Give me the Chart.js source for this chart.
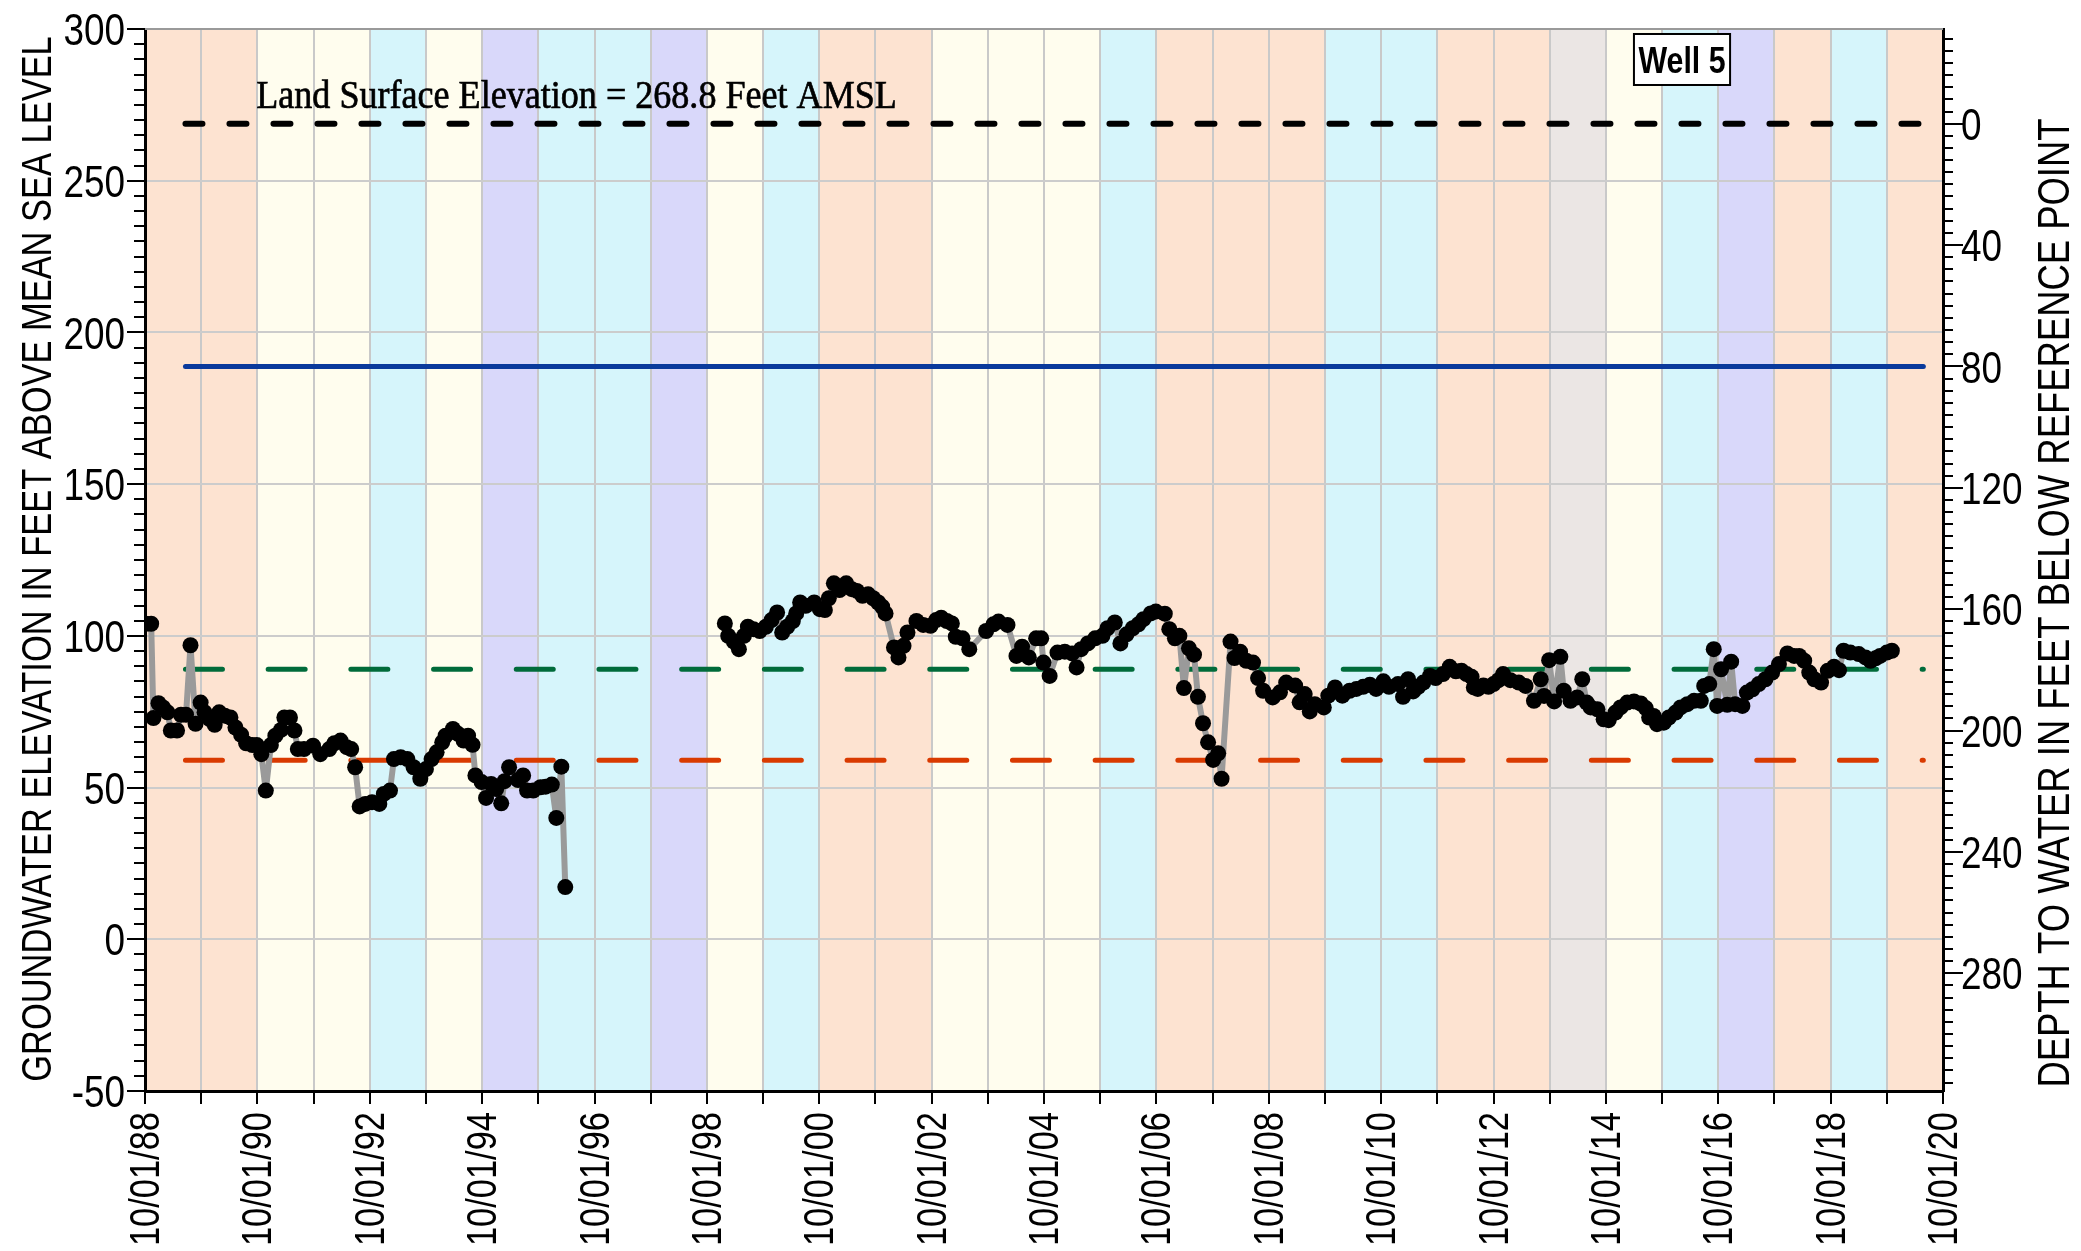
<!DOCTYPE html>
<html>
<head>
<meta charset="utf-8">
<script src="https://cdn.jsdelivr.net/npm/chart.js@4.4.1/dist/chart.umd.min.js"></script>
<style>
html,body{margin:0;padding:0;background:#fff;}
#wrap{width:2081px;height:1251px;position:relative;}
</style>
</head>
<body>
<div id="wrap"><canvas id="c" width="2081" height="1251"></canvas></div>
<script>
// ---------------- DATA ----------------
const wellName = 'Well 5';
const landSurfaceElevation = 268.8;
const landSurfaceLabel = 'Land Surface Elevation = 268.8 Feet AMSL';
const leftAxisTitle = 'GROUNDWATER ELEVATION IN FEET ABOVE MEAN SEA LEVEL';
const rightAxisTitle = 'DEPTH TO WATER IN FEET BELOW REFERENCE POINT';

// water years (start = Oct 1, decimal year) and their classification colour keys
const waterYearStarts = [1988.75,1989.75,1990.75,1991.75,1992.75,1993.75,1994.75,1995.75,1996.75,1997.75,
  1998.75,1999.75,2000.75,2001.75,2002.75,2003.75,2004.75,2005.75,2006.75,2007.75,
  2008.75,2009.75,2010.75,2011.75,2012.75,2013.75,2014.75,2015.75,2016.75,2017.75,2018.75,2019.75];
const waterYearTypes = ['orange','orange','yellow','yellow','blue','yellow','purple','blue','blue','purple',
  'yellow','blue','orange','orange','yellow','yellow','yellow','blue','orange','orange',
  'orange','blue','blue','orange','orange','gray','yellow','blue','purple','orange','blue','orange'];

// x tick labels (every second water year start)
const xTickLabels = ['10/01/88','10/01/90','10/01/92','10/01/94','10/01/96','10/01/98','10/01/00','10/01/02',
  '10/01/04','10/01/06','10/01/08','10/01/10','10/01/12','10/01/14','10/01/16','10/01/18','10/01/20'];

// reference lines
const refLineStart = 1989.47;
const refLineEnd = 2020.40;
const blueLineElev = 188.8;
const greenLineElev = 89;
const redLineElev = 59;

// observed groundwater elevations (decimal year, feet AMSL); null = data gap
const obsYear = [
 1988.77,1988.86,1988.90,1988.99,1989.07,1989.15,1989.21,1989.32,1989.39,1989.48,1989.56,1989.65,1989.74,1989.81,1989.90,1989.99,
 1990.07,1990.17,1990.27,1990.36,1990.46,1990.55,1990.66,1990.74,1990.82,1990.90,1990.99,1991.07,1991.17,1991.23,1991.33,1991.41,
 1991.47,1991.58,1991.74,1991.87,1992.03,1992.12,1992.23,1992.34,1992.42,1992.49,1992.57,1992.67,1992.79,1992.92,1993.00,1993.11,
 1993.18,1993.30,1993.42,1993.53,1993.65,1993.75,1993.85,1993.94,1994.04,1994.10,1994.23,1994.32,1994.42,1994.50,1994.58,1994.63,
 1994.74,1994.82,1994.91,1995.00,1995.09,1995.15,1995.23,1995.39,1995.48,1995.55,1995.66,1995.79,1995.88,1995.99,1996.07,1996.16,1996.23,
 1997.60,
 1999.07,1999.13,1999.23,1999.32,1999.41,1999.48,1999.58,1999.69,1999.80,1999.90,2000.00,2000.09,2000.18,2000.28,2000.34,2000.41,
 2000.51,2000.66,2000.76,2000.85,2000.92,2001.01,2001.11,2001.23,2001.33,2001.42,2001.52,2001.62,2001.71,2001.80,2001.87,2001.93,
 2002.08,2002.16,2002.25,2002.32,2002.48,2002.60,2002.73,2002.83,2002.92,2003.02,2003.11,2003.18,2003.30,2003.42,2003.72,2003.85,
 2003.94,2004.10,2004.26,2004.36,2004.48,2004.61,2004.70,2004.74,2004.85,2004.99,2005.12,2005.25,2005.33,2005.41,2005.53,2005.66,
 2005.79,2005.88,2006.01,2006.11,2006.22,2006.33,2006.43,2006.52,2006.65,2006.74,2006.90,2006.98,2007.08,2007.16,2007.24,2007.33,
 2007.42,2007.49,2007.58,2007.67,2007.76,2007.85,2007.91,2008.07,2008.14,2008.24,2008.35,2008.47,2008.56,2008.65,2008.82,2008.95,
 2009.06,2009.22,2009.30,2009.39,2009.48,2009.57,2009.73,2009.81,2009.93,2010.06,2010.19,2010.31,2010.43,2010.55,2010.66,2010.79,
 2010.89,2011.05,2011.14,2011.23,2011.32,2011.41,2011.50,2011.62,2011.72,2011.85,2011.97,2012.08,2012.18,2012.27,2012.36,2012.40,
 2012.47,2012.57,2012.66,2012.75,2012.84,2012.92,2013.05,2013.20,2013.32,2013.47,2013.59,2013.65,2013.74,2013.83,2013.94,2014.00,
 2014.12,2014.24,2014.33,2014.41,2014.48,2014.60,2014.71,2014.80,2014.92,2015.01,2015.13,2015.25,2015.37,2015.46,2015.52,2015.60,
 2015.66,2015.78,2015.87,2015.99,2016.08,2016.20,2016.32,2016.44,2016.50,2016.59,2016.67,2016.73,2016.80,2016.91,2016.98,2017.05,
 2017.18,2017.26,2017.36,2017.47,2017.59,2017.71,2017.83,2017.98,2018.10,2018.19,2018.28,2018.37,2018.46,2018.58,2018.70,2018.81,
 2018.90,2018.98,2019.10,2019.25,2019.37,2019.46,2019.55,2019.63,2019.75,2019.84
];
const obsElev = [
 104,104,72.9,77.8,76.4,74.8,68.8,68.8,74,74,96.9,71,78,74.8,72.6,70.7,
 74.8,73.7,73.1,69.8,67.4,64.6,64,64,61,49,64,67.1,69,73.1,73.1,68.8,
 62.7,62.7,63.8,61,62.7,64.6,65.5,63.3,62.7,56.7,43.8,44.6,45.2,44.6,47.9,49,
 59.4,60,59.4,56.7,52.9,56.1,59.4,61.6,64.9,67.1,69.3,67.7,65.5,67.1,64.1,54,
 51.8,46.6,51.2,49.5,44.8,52.1,56.7,52.5,54,49,49,50.1,50.3,51,40,56.9,17.2,
 null,
 104.1,100,98.1,95.6,100,103,102.2,101.6,103,105.2,107.7,101.1,103,104.9,107.4,111,
 109.9,111,108.8,108.5,112.4,117.3,115.1,117.3,115.4,114.8,113.2,113.7,112.4,111,109.6,107.4,
 96.2,92.9,96.7,101.1,104.9,103.6,103.3,105.2,106,104.9,104.1,99.7,99.2,95.6,101.6,103.8,
 104.7,103.6,93.4,96.4,92.9,99.2,99.2,91.2,86.8,94.5,94.8,94.2,89.6,95.6,97.5,99.2,
 100,102.5,104.4,97.5,100.5,102.5,103.8,105.5,107.4,108,107.3,102.2,99.2,100,82.8,95.9,
 93.8,79.9,71.2,64.9,59.1,61.3,52.9,98.1,92.7,94.8,91.8,91.2,86.1,81.9,79.7,81.4,
 84.6,83.6,78.1,80.8,75.1,77.5,76.4,80.3,83,80.3,81.9,82.5,83.2,83.9,82.5,85,
 83.2,84.1,79.9,85.7,81.7,83.2,84.6,86.8,86.1,87.4,89.8,88.3,88.5,87.4,86.5,83,
 82.5,83.6,83.2,84.1,85.4,87.4,85.4,84.6,83.5,78.6,85.7,80.2,92,78.4,93.1,81.9,
 78.6,79.7,85.7,78,76.4,75.8,72.5,72.2,74.7,76.4,78,78.4,77.7,76.2,73.1,73.6,
 70.9,71.4,73.1,74.7,76.4,77.5,78.6,78.6,83.5,84.1,95.6,76.9,89,77.3,91.5,77.5,
 76.9,81.3,82.4,84.1,85.7,87.9,90.7,94.2,93.4,93.4,91.8,87.9,85.7,84.6,88.5,89.8,
 88.7,95.1,94.5,94,92.9,91.8,92.6,93.4,94.5,95.1
];

// ---------------- STYLE ----------------
const SANS = "'Liberation Sans', Arial, sans-serif";
const NARROW_X = 0.82;   // horizontal condensing to mimic Arial Narrow
const bandColors = {orange:'#fde3d1', yellow:'#fffdee', blue:'#d6f5fb', purple:'#d9d8fa', gray:'#ebe6e4'};

function drawText(ctx, str, x, y, o) {
  ctx.save();
  ctx.translate(x, y);
  if (o.rot) ctx.rotate(o.rot);
  ctx.scale(o.sx || 1, 1);
  ctx.font = (o.weight || 'normal') + ' ' + o.size + 'px ' + (o.family || SANS);
  ctx.textAlign = o.align || 'left';
  ctx.textBaseline = o.baseline || 'alphabetic';
  ctx.fillStyle = o.color || '#000';
  ctx.fillText(str, 0, 0);
  if (o.stroke) { ctx.strokeStyle = o.color || '#000'; ctx.lineWidth = o.stroke; ctx.strokeText(str, 0, 0); }
  ctx.restore();
}

const bandsPlugin = {
  id: 'bands',
  beforeDraw(chart) {
    const {ctx, chartArea:a, scales:{x}} = chart;
    ctx.save();
    waterYearStarts.forEach((s, i) => {
      const x0 = x.getPixelForValue(s), x1 = x.getPixelForValue(s + 1);
      ctx.fillStyle = bandColors[waterYearTypes[i]];
      ctx.fillRect(x0, a.top, x1 - x0, a.bottom - a.top);
    });
    ctx.restore();
  }
};

const decorPlugin = {
  id: 'decor',
  afterDraw(chart) {
    const {ctx, chartArea:a, scales:{x, y, y2}} = chart;
    ctx.save();
    // top border
    ctx.strokeStyle = '#9a9a9a'; ctx.lineWidth = 2;
    ctx.beginPath(); ctx.moveTo(a.left, a.top); ctx.lineTo(a.right, a.top); ctx.stroke();
    // tick marks
    ctx.strokeStyle = '#000'; ctx.lineWidth = 2;
    ctx.beginPath();
    x.ticks.forEach(t => { const p = Math.round(x.getPixelForValue(t.value)); ctx.moveTo(p, a.bottom); ctx.lineTo(p, a.bottom + 13); });
    y.ticks.forEach(t => { const p = Math.round(y.getPixelForValue(t.value)); const l = (t.value % 50 === 0) ? 18 : 11; ctx.moveTo(a.left - l, p); ctx.lineTo(a.left, p); });
    y2.ticks.forEach(t => { const p = Math.round(y2.getPixelForValue(t.value)); const l = (t.value % 40 === 0) ? 20 : 10; ctx.moveTo(a.right, p); ctx.lineTo(a.right + l, p); });
    ctx.stroke();
    ctx.restore();

    // tick labels
    y.ticks.forEach(t => {
      if (t.value % 50 !== 0) return;
      drawText(ctx, String(t.value), a.left - 20, y.getPixelForValue(t.value) + 0.358 * 45, {size: 45, sx: NARROW_X, align: 'right'});
    });
    y2.ticks.forEach(t => {
      if (t.value % 40 !== 0 || t.value < 0 || t.value > 280) return;
      drawText(ctx, String(t.value), a.right + 18, y2.getPixelForValue(t.value) + 0.358 * 45, {size: 45, sx: NARROW_X, align: 'left'});
    });
    x.ticks.forEach((t, i) => {
      if (i % 2 !== 0) return;
      drawText(ctx, xTickLabels[i / 2], x.getPixelForValue(t.value) + 0.358 * 42 - 1, a.bottom + 21, {size: 42, sx: NARROW_X, align: 'right', rot: -Math.PI / 2});
    });

    // axis titles
    drawText(ctx, leftAxisTitle, 36 + 0.358 * 42, 559, {size: 42, sx: NARROW_X, align: 'center', rot: -Math.PI / 2});
    drawText(ctx, rightAxisTitle, 2053 + 0.358 * 44, 603, {size: 44, sx: NARROW_X * 1.01, align: 'center', rot: -Math.PI / 2});

    // land surface label
    drawText(ctx, landSurfaceLabel, x.getPixelForValue(1990.73), y.getPixelForValue(274),
      {size: 41, sx: 0.88, family: "'Liberation Serif', serif", stroke: 0.7});

    // well box
    ctx.save();
    ctx.font = 'bold 37px ' + SANS;
    const w = ctx.measureText(wellName).width * NARROW_X;
    const cx = x.getPixelForValue(2016.105), cy = y.getPixelForValue(289.95);
    const bw = w + 9, bh = 51;
    ctx.fillStyle = '#fff';
    ctx.fillRect(cx - bw / 2, cy - bh / 2, bw, bh);
    ctx.strokeStyle = '#000'; ctx.lineWidth = 2;
    ctx.strokeRect(cx - bw / 2, cy - bh / 2, bw, bh);
    ctx.restore();
    drawText(ctx, wellName, cx, cy + 0.358 * 37, {size: 37, weight: 'bold', sx: NARROW_X, align: 'center'});
  }
};

function hLine(elev, color, width, dash) {
  return {
    data: [{x: refLineStart, y: elev}, {x: refLineEnd, y: elev}],
    showLine: true, pointRadius: 0, borderColor: color, borderWidth: width,
    borderDash: dash, borderCapStyle: 'round', order: 2
  };
}

new Chart(document.getElementById('c'), {
  type: 'scatter',
  data: {
    datasets: [
      {
        label: 'Groundwater elevation',
        data: obsYear.map((v, i) => ({x: v, y: obsElev[i]})),
        showLine: true, spanGaps: false,
        borderColor: '#9a9a9a', borderWidth: 6, borderJoinStyle: 'round', borderCapStyle: 'round',
        pointRadius: 8, pointBorderWidth: 0, pointBackgroundColor: '#000', pointBorderColor: '#000',
        order: 0
      },
      hLine(landSurfaceElevation, '#000', 6, [17, 27]),
      hLine(blueLineElev, '#0a3a9c', 5, []),
      hLine(greenLineElev, '#006b3a', 5, [37, 45.7]),
      hLine(redLineElev, '#d93a00', 5, [37, 45.7])
    ]
  },
  options: {
    responsive: false, animation: false, events: [],
    layout: {padding: {top: 29, left: 0, right: 0, bottom: 0}},
    plugins: {legend: {display: false}, tooltip: {enabled: false}},
    scales: {
      x: {
        type: 'linear', position: 'bottom', min: 1988.75, max: 2020.75,
        afterBuildTicks: s => { s.ticks = waterYearStarts.concat([2020.75]).map(v => ({value: v})); },
        afterFit: s => { s.height = 160; },
        grid: {color: '#c9c9c9', lineWidth: 2, drawTicks: false},
        border: {color: '#000', width: 3},
        ticks: {display: false}
      },
      y: {
        type: 'linear', position: 'left', min: -50, max: 300,
        afterBuildTicks: s => { const t = []; for (let v = -50; v <= 300; v += 5) t.push({value: v}); s.ticks = t; },
        afterFit: s => { s.width = 145; },
        grid: {color: c => (c.tick && c.tick.value % 50 === 0) ? '#cccccc' : 'rgba(0,0,0,0)', lineWidth: 2, drawTicks: false},
        border: {color: '#000', width: 3},
        ticks: {display: false}
      },
      y2: {
        type: 'linear', position: 'right', reverse: true,
        min: landSurfaceElevation - 300, max: landSurfaceElevation + 50,
        afterBuildTicks: s => { const t = []; for (let v = -28; v <= 316; v += 4) t.push({value: v}); s.ticks = t; },
        afterFit: s => { s.width = 138; },
        grid: {drawOnChartArea: false, drawTicks: false},
        border: {color: '#000', width: 3},
        ticks: {display: false}
      }
    }
  },
  plugins: [bandsPlugin, decorPlugin]
});
</script>
</body>
</html>
